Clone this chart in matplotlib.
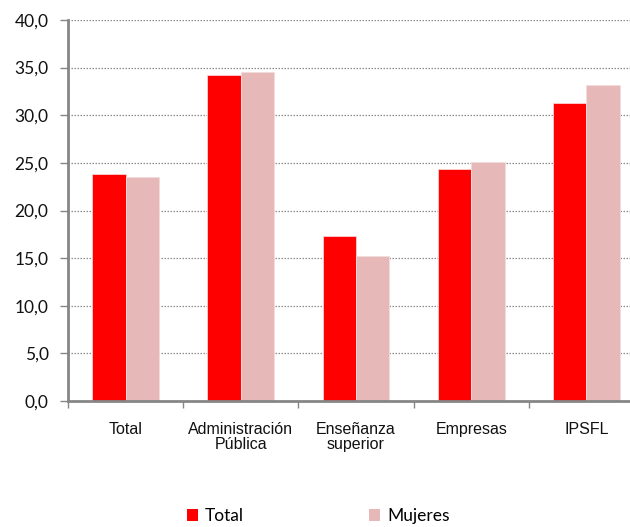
import matplotlib
matplotlib.use("Agg")
import matplotlib.pyplot as plt
import numpy as np
from matplotlib.ticker import FuncFormatter, FixedLocator
from matplotlib.patches import Patch

categories = ["Total", "Administración\nPública", "Enseñanza\nsuperior", "Empresas", "IPSFL"]
total = [23.8, 34.2, 17.3, 24.4, 31.3]
mujeres = [23.5, 34.5, 15.2, 25.1, 33.2]
series_names = ["Total", "Mujeres"]

red = "#FF0000"
pink = "#E6B9B8"
grey = "#868686"

fig = plt.figure(figsize=(6.3, 5.27), dpi=100)
ax = fig.add_axes([68 / 630, 1 - 401 / 527, 576 / 630, 381 / 527])

x = np.arange(len(categories))
w = 0.29
ax.bar(x - w / 2, total, width=w, color=red, edgecolor="#FFD0D0", linewidth=0.6, zorder=3)
ax.bar(x + w / 2, mujeres, width=w, color=pink, edgecolor="#F4DCDC", linewidth=0.6, zorder=3)

ax.set_xlim(-0.5, len(categories) - 0.5)
ax.set_ylim(0, 40)
ax.set_yticks(np.arange(0, 41, 5))
ax.yaxis.set_major_formatter(FuncFormatter(lambda v, p: f"{v:.1f}".replace(".", ",")))
ax.grid(axis="y", linestyle=(0, (1.2, 1.2)), color="#8C8C8C", linewidth=0.9, zorder=0)

ax.set_xticks(x)
ax.set_xticklabels(categories, fontfamily="Liberation Sans", fontsize=11.5, linespacing=1.05,
                   color="#111111")
ax.xaxis.set_minor_locator(FixedLocator(np.arange(-0.5, len(categories), 1.0)))
ax.tick_params(axis="x", which="major", length=0, pad=15)
ax.tick_params(axis="x", which="minor", length=5, width=1.0, color=grey)
ax.tick_params(axis="y", length=6, width=1.0, color=grey, pad=8, labelsize=12.5)
for lab in ax.get_yticklabels():
    lab.set_fontfamily("Lato")
    lab.set_color("#111111")

for s in ["top", "right"]:
    ax.spines[s].set_visible(False)
for s in ["left", "bottom"]:
    ax.spines[s].set_color(grey)
    ax.spines[s].set_linewidth(2)
ax.spines["left"].set_zorder(4)
ax.spines["bottom"].set_zorder(4)

handles = [Patch(facecolor=red, edgecolor="none"), Patch(facecolor=pink, edgecolor="none")]
fig.legend(handles, series_names, loc="center", bbox_to_anchor=(318 / 630, 1 - 516 / 527),
           ncol=2, frameon=False, handlelength=0.65, handleheight=0.65, handletextpad=0.4,
           columnspacing=7.2, prop={"family": "Lato", "size": 12.5})

fig.savefig("out.png", dpi=100)
